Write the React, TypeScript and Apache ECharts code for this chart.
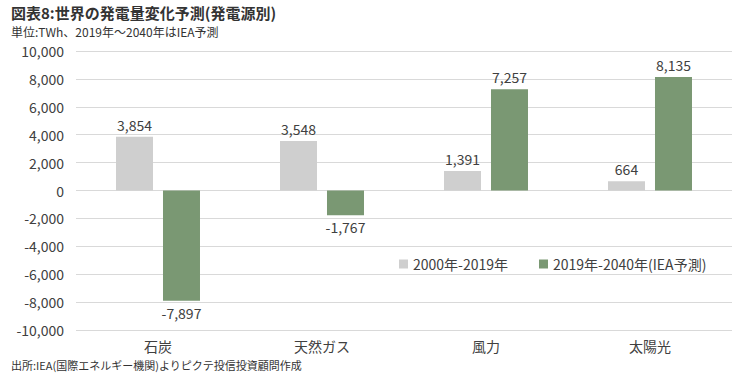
import React, { useEffect, useRef } from "react";
import * as echarts from "echarts";

const categories = ["石炭", "天然ガス", "風力", "太陽光"];
const seriesNames = ["2000年-2019年", "2019年-2040年(IEA予測)"];
const past = [3854, 3548, 1391, 664];
const future = [-7897, -1767, 7257, 8135];
const titleText = "図表8:世界の発電量変化予測(発電源別)";
const unitText = "単位:TWh、2019年～2040年はIEA予測";
const sourceText = "出所:IEA(国際エネルギー機関)よりピクテ投信投資顧問作成";

const FONT = "'Noto Sans CJK JP', 'Noto Sans', sans-serif";
const fmt = (v: number) => (v < 0 ? "-" : "") + Math.abs(v).toLocaleString("en-US");

const toData = (arr: number[]) =>
  arr.map((v) => ({
    value: v,
    label: { position: v < 0 ? "bottom" : "top" },
  }));

export default function App() {
  const ref = useRef<HTMLDivElement>(null);
  useEffect(() => {
    if (!ref.current) return;
    const chart = echarts.init(ref.current, undefined, { renderer: "svg" });
    const label = {
      show: true,
      distance: 5,
      color: "#404040",
      fontSize: 14,
      fontFamily: FONT,
      formatter: (p: any) => fmt(p.value),
    };
    chart.setOption({
      animation: false,
      backgroundColor: "#ffffff",
      textStyle: { fontFamily: FONT },
      graphic: [
        {
          type: "text",
          left: 11,
          top: 5,
          style: { text: titleText, fontSize: 15, lineHeight: 15, fontWeight: "bold", fill: "#333", fontFamily: FONT },
        },
        {
          type: "text",
          left: 11,
          top: 25,
          style: { text: unitText, fontSize: 12, lineHeight: 12, fill: "#333", fontFamily: FONT },
        },
        {
          type: "text",
          left: 11,
          top: 359,
          style: { text: sourceText, fontSize: 11, lineHeight: 11, fill: "#333", fontFamily: FONT },
        },
      ],
      legend: {
        left: 394,
        top: 252,
        itemWidth: 9,
        itemHeight: 9,
        itemGap: 31,
        icon: "rect",
        textStyle: { fontSize: 14, color: "#404040", fontFamily: FONT },
        data: seriesNames,
      },
      grid: { left: 76, right: 18, top: 51, bottom: 49, containLabel: false },
      xAxis: {
        type: "category",
        data: categories,
        axisLine: { show: false },
        axisTick: { show: false },
        axisLabel: { fontSize: 14, color: "#404040", margin: 9, lineHeight: 14, fontFamily: FONT },
      },
      yAxis: {
        type: "value",
        min: -10000,
        max: 10000,
        interval: 2000,
        axisLine: { show: false },
        axisTick: { show: false },
        splitLine: { lineStyle: { color: "#d9d9d9", width: 1 } },
        axisLabel: {
          fontSize: 14,
          color: "#404040",
          margin: 12,
          fontFamily: FONT,
          formatter: (v: number) => fmt(v),
        },
      },
      series: [
        {
          name: seriesNames[0],
          type: "bar",
          data: toData(past),
          barWidth: 37,
          barGap: "27%",
          itemStyle: { color: "#cfcfcf" },
          label,
        },
        {
          name: seriesNames[1],
          type: "bar",
          data: toData(future),
          barWidth: 37,
          barGap: "27%",
          itemStyle: { color: "#7a9873" },
          label,
        },
      ],
    });
    return () => chart.dispose();
  }, []);
  return (
    <div
      ref={ref}
      style={{ position: "absolute", left: 0, top: 0, width: 750, height: 379 }}
    />
  );
}
